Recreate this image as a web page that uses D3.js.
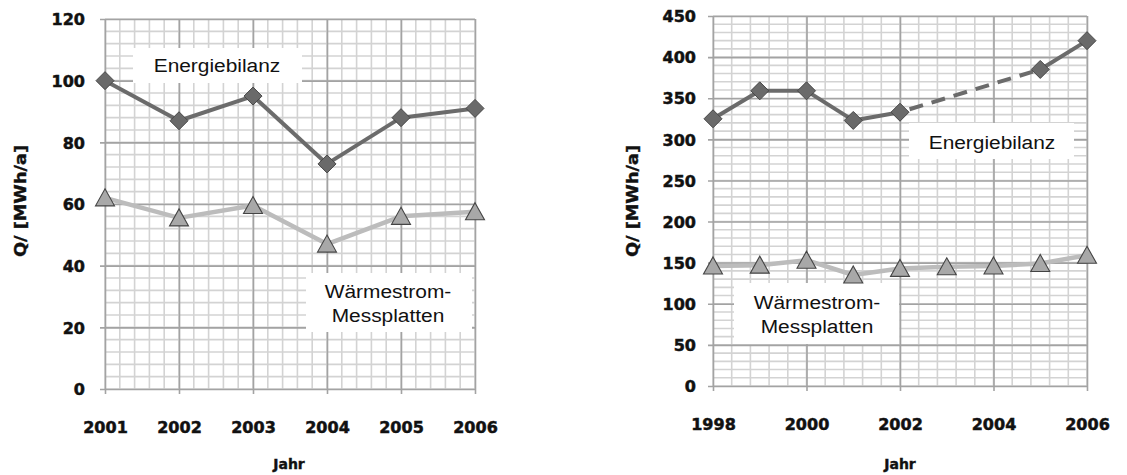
<!DOCTYPE html>
<meta charset="utf-8">
<script src="https://d3js.org/d3.v7.min.js"></script>
<style>
body { margin: 0; background: #fff; }
svg { display: block; }
.tick text { font-family: "DejaVu Sans"; font-weight: bold; font-size: 16px; fill: #111; stroke: #111; stroke-width: 0.5px; }
.note { font-family: Arial, "Liberation Sans"; font-size: 19px; fill: #111; }
.ttl { font-family: "DejaVu Sans"; font-weight: bold; fill: #111; stroke: #111; stroke-width: 0.4px; }
</style>
<body>
<svg id="chart" width="1127" height="475"></svg>
<script>
// left chart
var yearsA = [2001, 2002, 2003, 2004, 2005, 2006];
var energieA = [100, 87, 95, 73, 88, 91];
var waermeA = [62, 55.5, 59.5, 47, 56, 57.5];
var yTicksA = [0, 20, 40, 60, 80, 100, 120];

// right chart
var yearsEB = [1998, 1999, 2000, 2001, 2002, 2005, 2006];
var energieB = [325, 359, 359, 323, 333, 385, 420];
var yearsWB = [1998, 1999, 2000, 2001, 2002, 2003, 2004, 2005, 2006];
var waermeB = [146, 147, 153, 135, 143, 145, 146, 149, 159];
var xTicksB = [1998, 2000, 2002, 2004, 2006];
var yTicksB = [0, 50, 100, 150, 200, 250, 300, 350, 400, 450];

var svg = d3.select("#chart");

function drawchart(opt) {
	var x = d3.scaleLinear().domain(opt.xdom).range(opt.xr);
	var y = d3.scaleLinear().domain(opt.ydom).range(opt.yr);
	var g = svg.append("g");

	// minor grid
	var xs = [], ys = [];
	for (var v = opt.xdom[0]; v <= opt.xdom[1] + 1e-6; v += opt.xminor) xs.push(v);
	for (var v = opt.ydom[0]; v <= opt.ydom[1] + 1e-6; v += opt.yminor) ys.push(v);
	g.selectAll(".mx").data(xs).enter().append("line")
		.attr("x1", d => x(d)).attr("x2", d => x(d))
		.attr("y1", opt.yr[0]).attr("y2", opt.yr[1])
		.attr("stroke", "#d3d3d3").attr("stroke-width", 1.6);
	g.selectAll(".my").data(ys).enter().append("line")
		.attr("y1", d => y(d)).attr("y2", d => y(d))
		.attr("x1", opt.xr[0]).attr("x2", opt.xr[1])
		.attr("stroke", "#d3d3d3").attr("stroke-width", 1.6);

	// major grid with axes
	var ya = g.append("g").attr("transform", "translate(" + opt.xr[0] + ",0)")
		.call(d3.axisLeft(y).tickValues(opt.yticks).tickSize(-(opt.xr[1] - opt.xr[0])).tickSizeOuter(0).tickPadding(opt.ypad));
	ya.select(".domain").remove();
	ya.selectAll(".tick line").attr("x1", -5).attr("stroke", "#a3a3a3").attr("stroke-width", 1.6);
	ya.selectAll(".tick text").attr("dy", "0.36em");

	var xa = g.append("g").attr("transform", "translate(0," + opt.yr[0] + ")")
		.call(d3.axisBottom(x).tickValues(opt.xticks).tickFormat(d3.format("d")).tickSize(-(opt.yr[0] - opt.yr[1])).tickSizeOuter(0).tickPadding(33));
	xa.select(".domain").remove();
	xa.selectAll(".tick line").attr("y1", 5).attr("stroke", "#a3a3a3").attr("stroke-width", 1.6);

	// label boxes
	opt.notes.forEach(function (n) {
		g.append("rect").attr("x", n.box[0]).attr("y", n.box[1])
			.attr("width", n.box[2] - n.box[0]).attr("height", n.box[3] - n.box[1])
			.attr("fill", "#fff");
		n.lines.forEach(function (t, i) {
			g.append("text").attr("class", "note")
				.attr("transform", "translate(" + n.cx + "," + (n.base + i * 24) + ") scale(1.1,1)")
				.attr("text-anchor", "middle").text(t);
		});
	});

	// Wärmestrom series
	var wpts = opt.wyears.map((d, i) => [x(d), y(opt.wvals[i])]);
	g.append("path").attr("d", d3.line()(wpts)).attr("fill", "none")
		.attr("stroke", "#bcbcbc").attr("stroke-width", 4.5).attr("stroke-linejoin", "round");

	// Energiebilanz series, dashed where years are missing
	var epts = opt.eyears.map((d, i) => [x(d), y(opt.evals[i])]);
	for (var i = 1; i < epts.length; i++) {
		var gap = opt.eyears[i] - opt.eyears[i - 1] > 1;
		g.append("line")
			.attr("x1", epts[i - 1][0]).attr("y1", epts[i - 1][1])
			.attr("x2", epts[i][0]).attr("y2", epts[i][1])
			.attr("stroke", "#6b6b6b").attr("stroke-width", 4)
			.attr("stroke-dasharray", gap ? "0,10,14,9,14,9,14,9,14,9,14,9,14,9,14,9,14,9,14,9" : null);
	}

	g.selectAll(".dia").data(epts).enter().append("path")
		.attr("d", d => "M" + d[0] + "," + (d[1] - 9) + "l9,9l-9,9l-9,-9z")
		.attr("fill", "#6a6a6a").attr("stroke", "#474747").attr("stroke-width", 1);

	g.selectAll(".tri").data(wpts).enter().append("path")
		.attr("d", d => "M" + d[0] + "," + (d[1] - 9) + "l9.5,17l-19,0z")
		.attr("fill", "#a8a8a8").attr("stroke", "#444").attr("stroke-width", 1.1);

	// axis titles
	g.append("text").attr("class", "ttl")
		.attr("transform", "translate(" + opt.ylx + ",201) rotate(-90)")
		.attr("text-anchor", "middle").attr("font-size", "15px")
		.attr("textLength", 112).attr("lengthAdjust", "spacingAndGlyphs")
		.text("Q/ [MWh/a]");
	g.append("text").attr("class", "ttl")
		.attr("x", opt.xlx).attr("y", 469).attr("text-anchor", "middle").attr("font-size", "14px")
		.text("Jahr");
}

drawchart({
	xdom: [2001, 2006], xr: [105, 475], ydom: [0, 120], yr: [389, 19],
	xminor: 0.2, yminor: 4, xticks: yearsA, yticks: yTicksA, ypad: 20,
	eyears: yearsA, evals: energieA, wyears: yearsA, wvals: waermeA,
	ylx: 26, xlx: 289,
	notes: [
		{box: [133, 48, 302, 83], cx: 217, base: 72, lines: ["Energiebilanz"]},
		{box: [306, 273, 472, 332], cx: 388, base: 298, lines: ["Wärmestrom-", "Messplatten"]}
	]
});

drawchart({
	xdom: [1998, 2006], xr: [713, 1087], ydom: [0, 450], yr: [386, 16],
	xminor: 0.4, yminor: 10, xticks: xTicksB, yticks: yTicksB, ypad: 17,
	eyears: yearsEB, evals: energieB, wyears: yearsWB, wvals: waermeB,
	ylx: 638, xlx: 900,
	notes: [
		{box: [909, 123, 1074, 159], cx: 992, base: 149, lines: ["Energiebilanz"]},
		{box: [734, 283, 899, 344], cx: 817, base: 309, lines: ["Wärmestrom-", "Messplatten"]}
	]
});
</script>
</body>
